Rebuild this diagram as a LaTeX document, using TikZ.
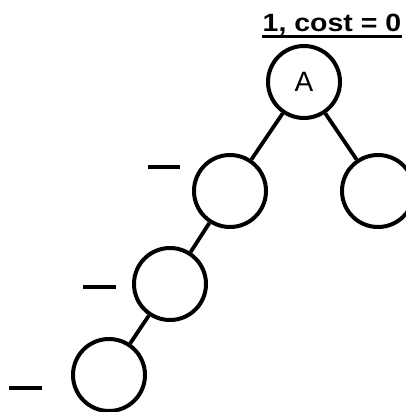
\documentclass[tikz,border=0pt]{standalone}
\usepackage{fontspec}
\setmainfont{Liberation Sans}
\begin{document}
\begin{tikzpicture}[x=1pt,y=-1pt,
  tnode/.style={circle,draw,line width=4pt,minimum size=72pt,inner sep=0pt,font=\fontsize{28}{28}\selectfont},
  edge/.style={line width=3.8pt},
  dashmark/.style={line width=4.2pt}]
\useasboundingbox (0,0) rectangle (406,412);
\clip (0,0) rectangle (406,412);
\node[tnode] (A) at (304,82) {A};
\node[tnode] (B) at (230,191) {};
\node[tnode] (C) at (378,191) {};
\node[tnode] (D) at (170,284) {};
\node[tnode] (E) at (109,375) {};
\draw[edge] (A) -- (B);
\draw[edge] (A) -- (C);
\draw[edge] (B) -- (D);
\draw[edge] (D) -- (E);
\coordinate (d1a) at (148,167); \coordinate (d1b) at (180,167);
\coordinate (d2a) at (83,287); \coordinate (d2b) at (116,287);
\coordinate (d3a) at (9,388); \coordinate (d3b) at (42,388);
\draw[dashmark] (d1a) -- (d1b);
\draw[dashmark] (d2a) -- (d2b);
\draw[dashmark] (d3a) -- (d3b);
\node[anchor=base,inner sep=0pt,font=\bfseries\fontsize{25}{25}\selectfont] (L) at (332,32) {\scalebox{1.14}[1]{1, cost = 0}};
\draw[line width=2.8pt] ([yshift=-4.5pt]L.base west) -- ([yshift=-4.5pt]L.base east);
\end{tikzpicture}
\end{document}
